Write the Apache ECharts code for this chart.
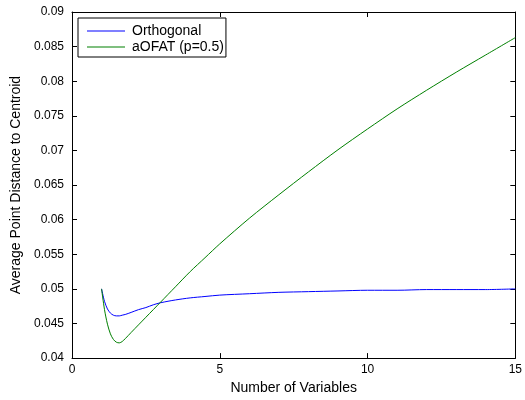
<!DOCTYPE html>
<html>
<head>
<meta charset="utf-8">
<script src="https://cdn.jsdelivr.net/npm/echarts@6/dist/echarts.min.js"></script>
<style>html,body{margin:0;padding:0;background:#fff}#c{width:525px;height:400px}</style>
</head>
<body>
<div id="c"></div>
<script>
var xValues = [1, 1.1, 1.2, 1.3, 1.4, 1.5, 1.6, 1.7, 1.8, 2.0, 2.25, 2.5, 2.75, 3.0, 3.5, 4.0, 4.5, 5.0, 6, 7, 8, 9, 10, 11, 12, 13, 14, 15];
var orthogonal = [0.0500, 0.0482, 0.0471, 0.0465, 0.0462, 0.0461, 0.0461, 0.0462, 0.0463, 0.0466, 0.0470, 0.0473, 0.0477, 0.0480, 0.0484, 0.0487, 0.0489, 0.0491, 0.0493, 0.0495, 0.0496, 0.0497, 0.0498, 0.0498, 0.0499, 0.0499, 0.0499, 0.0500];
var aofat = [0.0500, 0.0470, 0.0449, 0.0435, 0.0427, 0.0423, 0.0422, 0.0424, 0.0428, 0.0437, 0.0448, 0.0459, 0.0470, 0.0481, 0.0503, 0.0525, 0.0545, 0.0565, 0.0602, 0.0636, 0.0669, 0.0701, 0.0731, 0.0760, 0.0787, 0.0813, 0.0838, 0.0863];
var seriesNames = ['Orthogonal', 'aOFAT (p=0.5)'];

function pairs(xs, ys) { return xs.map(function (x, i) { return [x, ys[i]]; }); }
var font = 'Liberation Sans, Arial, Helvetica, sans-serif';
function yFmt(v) { return parseFloat(v.toFixed(3)).toString(); }

var chart = echarts.init(document.getElementById('c'));
var axisLine = { show: true, onZero: false, lineStyle: { color: '#000', width: 1 } };
var tick = { show: true, inside: true, length: 5, lineStyle: { color: '#000' } };
chart.setOption({
  animation: false,
  backgroundColor: '#fff',
  grid: { left: 72, right: 7, top: 12, bottom: 37, containLabel: false },
  legend: {
    orient: 'vertical', left: 78, top: 18,
    padding: [5, 2, 2, 9],
    icon: 'rect',
    itemWidth: 38, itemHeight: 1, itemGap: 0,
    borderColor: '#000', borderWidth: 1, backgroundColor: '#fff',
    textStyle: { fontFamily: font, fontSize: 14, color: '#000', lineHeight: 16, padding: [0, 0, 0, 2] },
    data: seriesNames
  },
  xAxis: [{
    type: 'value', min: 0, max: 15, interval: 5,
    name: 'Number of Variables', nameLocation: 'middle', nameGap: 22,
    nameTextStyle: { fontFamily: font, fontSize: 14, color: '#000' },
    axisLine: axisLine, axisTick: tick,
    axisLabel: { fontFamily: font, fontSize: 12, color: '#000', margin: 6 },
    splitLine: { show: false }
  }, {
    type: 'value', min: 0, max: 15, interval: 5, position: 'top',
    axisLine: axisLine, axisTick: tick, axisLabel: { show: false }, splitLine: { show: false }
  }],
  yAxis: [{
    type: 'value', min: 0.04, max: 0.09, interval: 0.005,
    name: 'Average Point Distance to Centroid', nameLocation: 'middle', nameGap: 45,
    nameTextStyle: { fontFamily: font, fontSize: 14, color: '#000' },
    axisLine: axisLine, axisTick: tick,
    axisLabel: { fontFamily: font, fontSize: 12, color: '#000', margin: 8, formatter: yFmt },
    splitLine: { show: false }
  }, {
    type: 'value', min: 0.04, max: 0.09, interval: 0.005, position: 'right',
    axisLine: axisLine, axisTick: tick, axisLabel: { show: false }, splitLine: { show: false }
  }],
  series: [{
    name: seriesNames[0], type: 'line', data: pairs(xValues, orthogonal),
    symbol: 'none', smooth: 0.3, lineStyle: { color: '#0000ff', width: 1 }, itemStyle: { color: '#0000ff' }
  }, {
    name: seriesNames[1], type: 'line', data: pairs(xValues, aofat),
    symbol: 'none', smooth: 0.3, lineStyle: { color: '#008000', width: 1 }, itemStyle: { color: '#008000' }
  }]
});
</script>
</body>
</html>
